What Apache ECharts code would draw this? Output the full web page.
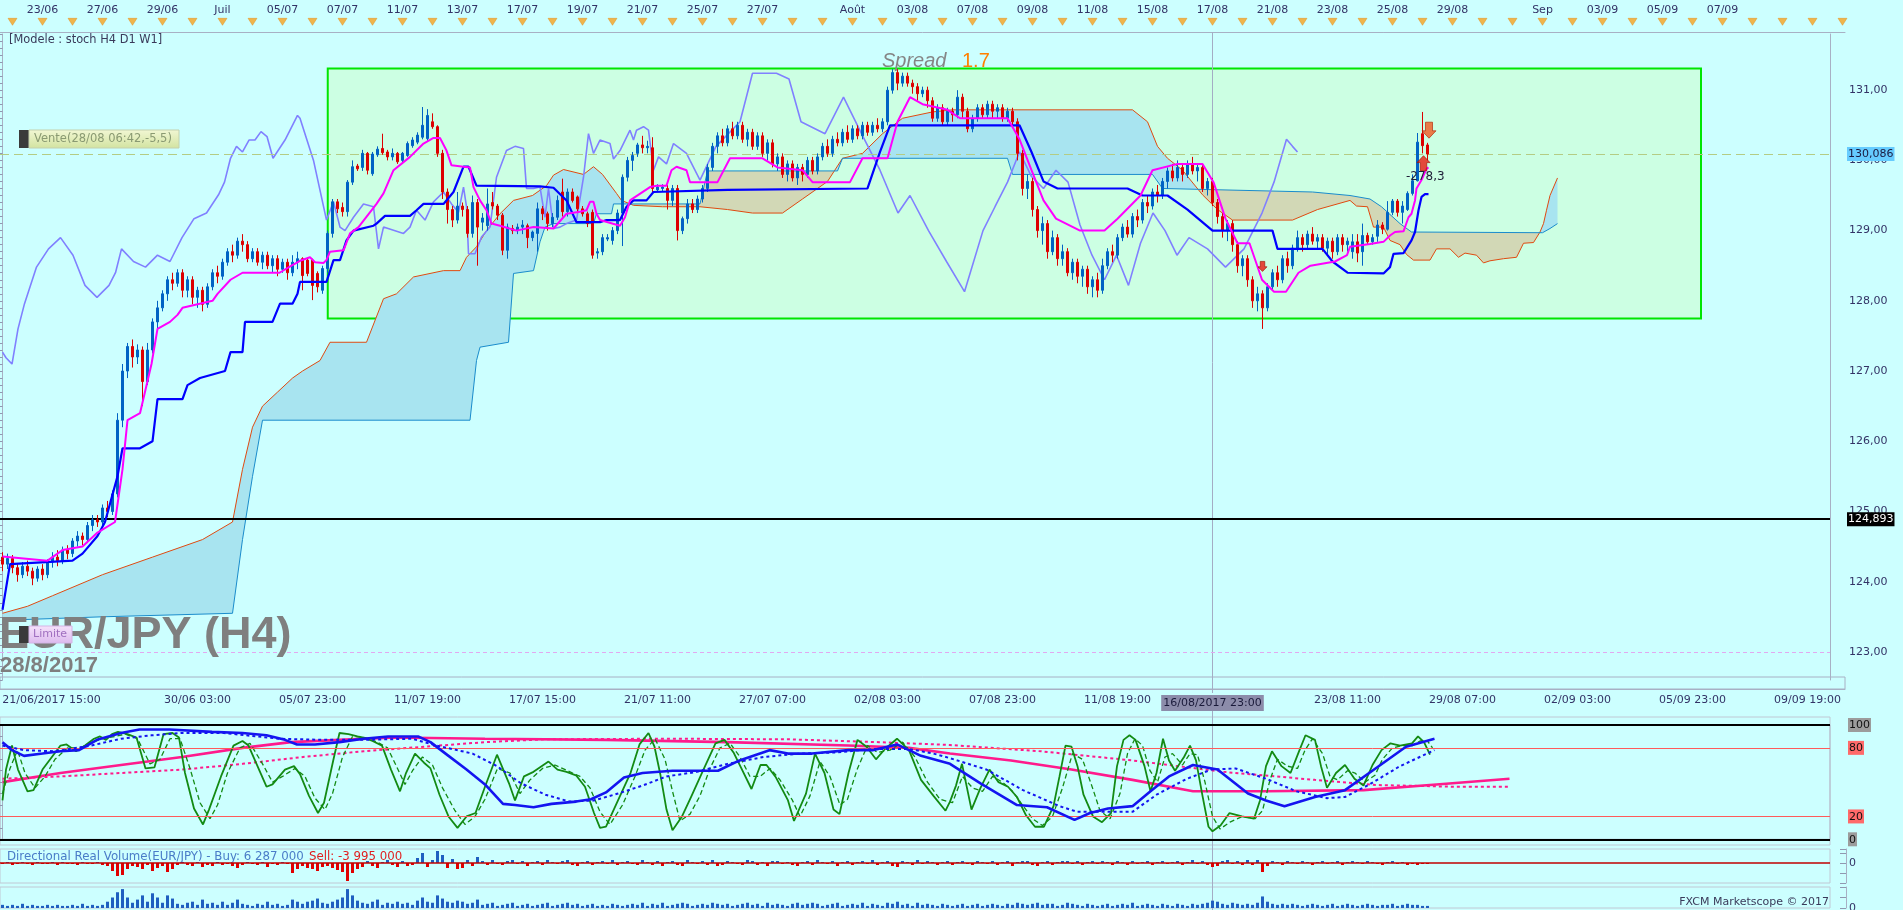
<!DOCTYPE html>
<html><head><meta charset="utf-8">
<script src="https://cdn.jsdelivr.net/npm/echarts@6/dist/echarts.min.js"></script>
<style>html,body{margin:0;padding:0;background:#ccffff;}#c{width:1903px;height:910px;}</style>
</head><body><div id="c"></div>
<script>
// ---------- DATA ----------
// candles [open, close, low, high], one per H4 bar (index 0 = 21/06/2017 15:00)
const candles = [
[124.35,124.25,124.15,124.42],[124.25,124.33,124.18,124.40],[124.33,124.20,124.12,124.38],[124.20,124.10,124.00,124.25],[124.10,124.22,124.05,124.28],
[124.22,124.15,124.08,124.30],[124.15,124.05,123.95,124.20],[124.05,124.18,124.00,124.22],[124.18,124.10,124.02,124.25],[124.10,124.28,124.05,124.32],
[124.28,124.35,124.20,124.42],[124.35,124.30,124.22,124.45],[124.30,124.45,124.25,124.50],[124.45,124.40,124.32,124.52],[124.40,124.58,124.35,124.62],
[124.58,124.65,124.50,124.72],[124.65,124.60,124.52,124.70],[124.60,124.80,124.55,124.85],[124.80,124.88,124.72,124.95],[124.88,124.85,124.78,124.95],
[124.85,125.05,124.80,125.10],[125.05,125.00,124.92,125.15],[125.00,125.25,124.95,125.30],[125.25,126.30,125.20,126.40],[126.30,127.00,126.20,127.10],
[127.00,127.35,126.90,127.40],[127.35,127.20,127.05,127.45],[127.20,127.30,127.10,127.38],[127.30,126.85,126.50,127.35],[126.85,127.30,126.80,127.40],
[127.30,127.70,127.25,127.75],[127.70,127.90,127.60,128.00],[127.90,128.10,127.85,128.15],[128.10,128.30,128.00,128.35],[128.30,128.25,128.15,128.40],
[128.25,128.40,128.20,128.45],[128.40,128.15,128.05,128.45],[128.15,128.30,128.05,128.35],[128.30,128.05,127.95,128.35],[128.05,128.15,127.90,128.20],
[128.15,127.95,127.85,128.20],[127.95,128.20,127.90,128.25],[128.20,128.40,128.15,128.45],[128.40,128.35,128.25,128.50],[128.35,128.55,128.30,128.60],
[128.55,128.70,128.50,128.75],[128.70,128.65,128.55,128.80],[128.65,128.85,128.60,128.90],[128.85,128.80,128.70,128.95],[128.80,128.60,128.55,128.85],
[128.60,128.70,128.55,128.75],[128.70,128.55,128.50,128.75],[128.55,128.65,128.45,128.70],[128.65,128.50,128.45,128.70],[128.50,128.60,128.40,128.65],
[128.60,128.45,128.35,128.65],[128.45,128.55,128.40,128.60],[128.55,128.40,128.30,128.60],[128.40,128.55,128.35,128.65],[128.55,128.60,128.45,128.70],
[128.60,128.36,128.15,128.62],[128.58,128.39,128.35,128.62],[128.58,128.22,128.01,128.60],[128.39,128.20,128.12,128.42],[128.15,128.46,128.10,128.50],
[128.46,128.96,128.40,129.00],[128.96,129.41,128.90,129.45],[129.41,129.31,129.25,129.45],[129.33,129.27,129.20,129.40],[129.27,129.69,129.20,129.72],
[129.69,129.91,129.65,130.00],[129.92,129.88,129.85,129.95],[129.90,130.10,129.85,130.15],[130.10,129.86,129.80,130.12],[129.81,130.09,129.78,130.12],
[130.08,130.16,130.05,130.20],[130.17,130.11,130.08,130.38],[130.12,130.05,130.00,130.15],[130.05,130.10,130.00,130.17],[130.10,129.98,129.95,130.12],
[130.00,130.10,129.97,130.12],[130.07,130.24,130.05,130.27],[130.21,130.29,130.18,130.33],[130.26,130.36,130.23,130.40],[130.33,130.50,130.30,130.76],
[130.31,130.64,130.28,130.73],[130.55,130.48,130.45,130.67],[130.48,130.10,130.05,130.50],[130.10,129.55,129.45,130.15],[129.55,129.30,129.10,129.60],
[129.30,129.15,129.05,129.35],[129.15,129.35,129.10,129.55],[129.35,129.30,129.20,129.40],[129.30,128.96,128.90,129.35],[128.96,129.40,128.90,129.50],
[129.40,129.05,128.50,129.45],[129.12,129.18,129.00,129.25],[129.07,129.38,129.00,129.60],[129.40,129.35,129.30,129.55],[129.35,129.22,129.15,129.38],
[129.22,128.72,128.65,129.25],[128.72,129.05,128.60,129.10],[129.03,129.00,128.95,129.08],[129.00,129.05,128.95,129.10],[129.05,129.08,128.95,129.15],
[129.07,128.90,128.75,129.10],[128.90,128.98,128.85,129.00],[128.96,129.31,128.70,129.40],[129.31,129.24,129.15,129.35],[129.24,129.10,129.00,129.27],
[129.10,129.19,129.05,129.25],[129.19,129.43,129.15,129.50],[129.55,129.27,129.20,129.74],[129.27,129.55,129.20,129.60],[129.55,129.43,129.40,129.60],
[129.48,129.31,129.25,129.50],[129.31,129.24,129.20,129.35],[129.24,129.10,129.05,129.27],[129.26,128.65,128.60,129.30],[128.68,128.70,128.60,128.75],
[128.70,128.90,128.65,128.95],[128.88,128.90,128.85,128.95],[128.86,129.00,128.80,129.05],[129.00,129.25,128.95,129.30],[129.25,129.76,128.78,129.80],
[129.76,130.00,129.70,130.05],[130.00,130.07,129.85,130.12],[130.10,130.22,130.05,130.25],[130.22,130.18,130.10,130.35],[130.18,130.20,130.10,130.28],
[130.18,129.60,129.55,130.33],[129.58,129.62,129.55,129.66],[129.60,129.62,129.55,129.66],[129.60,129.43,129.30,129.65],[129.43,129.60,129.35,129.65],
[129.60,129.00,128.86,129.65],[129.00,129.17,128.95,129.20],[129.17,129.38,129.10,129.45],[129.38,129.30,129.25,129.45],[129.30,129.45,129.25,129.50],
[129.45,129.60,129.40,129.65],[129.60,129.90,129.55,129.95],[129.90,130.20,129.85,130.25],[130.20,130.35,130.10,130.40],[130.35,130.25,130.20,130.45],
[130.25,130.45,130.20,130.50],[130.45,130.35,130.30,130.55],[130.35,130.50,130.30,130.55],[130.50,130.30,130.25,130.55],[130.30,130.40,130.20,130.45],
[130.40,130.20,130.15,130.45],[130.20,130.35,130.15,130.40],[130.35,130.10,130.05,130.40],[130.10,130.25,130.00,130.30],[130.25,129.95,129.90,130.30],
[129.95,130.05,129.85,130.10],[130.05,129.80,129.75,130.10],[129.80,129.95,129.70,130.00],[129.95,129.75,129.70,130.00],[129.75,129.90,129.65,129.95],
[129.90,129.80,129.70,129.95],[129.80,130.00,129.75,130.05],[130.00,129.85,129.80,130.05],[129.85,130.05,129.80,130.10],[130.05,130.20,130.00,130.25],
[130.20,130.10,130.05,130.30],[130.10,130.30,130.05,130.35],[130.30,130.25,130.20,130.40],[130.25,130.40,130.20,130.45],[130.40,130.30,130.25,130.50],
[130.30,130.45,130.25,130.50],[130.45,130.35,130.30,130.50],[130.35,130.50,130.30,130.55],[130.50,130.40,130.35,130.55],[130.40,130.50,130.35,130.55],
[130.50,130.45,130.40,130.60],[130.45,130.55,130.40,130.60],[130.55,131.00,130.50,131.05],[131.00,131.25,130.95,131.30],[131.25,131.10,131.00,131.30],
[131.10,131.20,131.05,131.25],[131.20,131.10,131.05,131.25],[131.10,131.05,130.95,131.15],[131.05,130.95,130.85,131.10],[130.95,131.00,130.90,131.05],
[131.00,130.85,130.75,131.05],[130.85,130.60,130.55,130.90],[130.60,130.75,130.55,130.80],[130.75,130.55,130.50,130.80],[130.55,130.70,130.50,130.75],
[130.70,130.65,130.55,130.75],[130.65,130.90,130.60,131.00],[130.90,130.70,130.60,130.95],[130.70,130.45,130.40,130.75],[130.45,130.60,130.40,130.65],
[130.60,130.75,130.55,130.80],[130.75,130.65,130.60,130.80],[130.65,130.80,130.60,130.85],[130.80,130.70,130.60,130.85],[130.70,130.75,130.60,130.80],
[130.75,130.60,130.55,130.80],[130.60,130.70,130.55,130.75],[130.70,130.55,130.50,130.75],[130.55,130.10,130.00,130.60],[130.10,129.60,129.50,130.15],
[129.60,129.70,129.45,129.80],[129.70,129.30,129.20,129.75],[129.30,129.00,128.90,129.35],[129.00,129.10,128.80,129.20],[129.10,128.70,128.60,129.15],
[128.70,128.90,128.65,129.00],[128.90,128.60,128.50,128.95],[128.60,128.70,128.50,128.80],[128.70,128.40,128.35,128.75],[128.40,128.55,128.30,128.60],
[128.55,128.35,128.25,128.60],[128.35,128.45,128.20,128.50],[128.45,128.20,128.10,128.50],[128.20,128.30,128.05,128.35],[128.30,128.15,128.05,128.40],
[128.15,128.50,128.10,128.60],[128.50,128.70,128.45,128.75],[128.70,128.65,128.55,128.80],[128.65,128.90,128.60,128.95],[128.90,129.05,128.85,129.10],
[129.05,128.95,128.90,129.15],[128.95,129.20,128.90,129.25],[129.20,129.15,129.05,129.30],[129.15,129.40,129.10,129.45],[129.40,129.35,129.25,129.50],
[129.35,129.55,129.30,129.60],[129.55,129.50,129.40,129.65],[129.50,129.70,129.45,129.75],[129.70,129.85,129.60,129.90],[129.85,129.75,129.70,129.95],
[129.75,129.90,129.70,130.00],[129.90,129.80,129.70,129.95],[129.80,129.95,129.75,130.00],[129.95,129.85,129.80,130.05],[129.85,129.90,129.70,129.95],
[129.90,129.60,129.55,129.95],[129.60,129.70,129.50,129.75],[129.70,129.40,129.35,129.75],[129.40,129.20,129.10,129.45],[129.20,129.00,128.90,129.25],
[129.00,129.10,128.85,129.15],[129.10,128.80,128.70,129.15],[128.80,128.50,128.40,128.85],[128.50,128.60,128.35,128.65],[128.60,128.30,128.20,128.65],
[128.30,128.00,127.90,128.35],[128.00,128.10,127.85,128.20],[128.10,127.90,127.60,128.15],[127.90,128.20,127.85,128.25],[128.20,128.40,128.15,128.45],
[128.40,128.30,128.20,128.50],[128.30,128.60,128.25,128.65],[128.60,128.50,128.40,128.70],[128.50,128.75,128.45,128.80],[128.75,128.90,128.70,129.00],
[128.90,128.80,128.70,128.95],[128.80,128.95,128.75,129.00],[128.95,128.85,128.80,129.05],[128.85,128.90,128.75,128.95],[128.90,128.75,128.70,128.95],
[128.75,128.85,128.65,128.90],[128.85,128.70,128.60,128.90],[128.70,128.90,128.65,128.95],[128.90,128.80,128.70,128.95],[128.80,128.85,128.70,128.90],
[128.70,128.84,128.60,128.95],[128.84,128.68,128.55,128.95],[128.70,128.93,128.50,129.10],[128.93,128.84,128.80,128.97],[128.84,128.90,128.80,128.95],
[128.92,129.08,128.84,129.15],[129.08,129.02,128.95,129.12],[129.02,129.26,129.00,129.42],[129.26,129.42,129.22,129.45],[129.42,129.26,129.20,129.45],
[129.26,129.35,129.10,129.42],[129.30,129.53,129.28,129.56],[129.53,129.71,129.50,129.80],[129.71,130.26,129.70,130.39],[130.38,130.21,130.10,130.69],
[130.22,130.09,130.00,130.25]
];
// Ichimoku lines: [bar index, price]
const tenkan = [[0,124.36],[9,124.3],[12,124.45],[16,124.5],[19,124.7],[22.5,124.85],[24,125.6],[25,126.3],[27.5,126.4],[29.8,127.1],[31,127.6],[33.5,127.7],[35,127.8],[36,127.9],[42,128.0],[43,128.1],[45.6,128.3],[48,128.4],[55.4,128.4],[57.8,128.5],[59.5,128.57],[61.5,128.62],[62.5,128.55],[64.2,128.54],[64.8,128.58],[65.5,128.7],[68.2,128.72],[69.5,128.96],[71.2,129.05],[74.8,129.38],[76.2,129.53],[78.2,129.86],[81.5,130.05],[84.2,130.24],[86.2,130.32],[87.5,130.32],[88.8,130.14],[89.8,129.93],[92.2,129.91],[93.5,129.9],[94.2,129.62],[95.5,129.43],[96.8,129.29],[97.8,129.1],[99.5,129.07],[102.8,129.0],[106.2,129.05],[110.2,129.03],[112.8,129.24],[115.5,129.27],[116.8,129.29],[117.5,129.41],[118.2,129.41],[118.8,129.24],[119.5,129.15],[123.5,129.07],[124.5,129.19],[125.5,129.43],[129.5,129.62],[130.8,129.64],[132.8,129.64],[133.8,129.86],[134.8,129.91],[136.8,129.86],[137.5,129.69],[143,129.69],[145.5,130.03],[152,130.03],[155,129.9],[160,129.86],[162,129.69],[169.5,129.69],[172,130.03],[177,130.03],[179,130.55],[181.5,130.9],[184,130.8],[189,130.72],[191.5,130.6],[201,130.6],[203.4,130.3],[205.8,129.86],[208.2,129.43],[210.7,129.17],[215.5,129.0],[220.4,129.0],[223,129.17],[227.6,129.5],[230,129.86],[235,129.95],[240,129.95],[242.2,129.69],[244.6,129.17],[247,128.82],[249.4,128.82],[251.9,128.3],[254.3,128.13],[256.7,128.13],[259.2,128.4],[261.6,128.5],[266.5,128.56],[268.9,128.65],[269.5,128.77],[273.5,128.81],[276.2,128.84],[277.5,128.93],[278.5,128.98],[280.2,128.99],[281.2,129.19],[281.8,129.24],[282.5,129.43],[282.8,129.6],[283.8,129.72],[284.8,129.88],[285.2,129.9]];
const kijun = [[0,123.6],[1.5,124.25],[14,124.3],[16,124.4],[19,124.65],[20.5,124.85],[23,125.5],[24,125.9],[27.5,125.9],[30,126.0],[31,126.6],[36,126.6],[37,126.8],[39.5,126.9],[44.5,127.0],[45.6,127.27],[48,127.27],[48.5,127.7],[54,127.7],[55.5,127.96],[58,127.96],[59,128.1],[59.5,128.27],[64.8,128.27],[66.2,128.58],[67.5,128.58],[68.8,128.86],[70.2,129.0],[74.2,129.07],[74.8,129.1],[76.5,129.21],[81.5,129.21],[82.8,129.29],[84.2,129.38],[88.2,129.38],[90.2,129.55],[92.2,129.91],[93.2,129.91],[94.8,129.64],[107.5,129.63],[110.2,129.61],[112.8,129.43],[114.8,129.12],[119.5,129.12],[120.8,129.15],[123.5,129.15],[124.8,129.34],[126.2,129.43],[128.8,129.43],[130.2,129.55],[145,129.58],[173,129.6],[175.5,130.12],[177.5,130.5],[203.4,130.5],[205.8,130.12],[208.2,129.7],[211,129.6],[225,129.6],[228,129.5],[233,129.5],[237,129.3],[242,129.0],[254,129.0],[255,128.74],[264,128.74],[266,128.56],[269,128.4],[276.2,128.39],[277.5,128.48],[278.2,128.67],[280.2,128.68],[281.8,128.86],[282.5,128.98],[283.2,129.29],[283.8,129.48],[284.5,129.52],[285.2,129.52]];
const chikou = [[0,127.27],[0.7,127.19],[1.9,127.1],[3.1,127.6],[4.4,127.96],[6.8,128.48],[9.2,128.74],[11.6,128.9],[14.1,128.65],[16.5,128.22],[18.9,128.05],[21.3,128.22],[22.6,128.4],[23.8,128.74],[26.2,128.56],[28.6,128.48],[31,128.65],[33.5,128.56],[35.9,128.9],[38.3,129.17],[40.8,129.25],[43.2,129.51],[44.4,129.69],[45.6,130.03],[46.8,130.2],[48,130.12],[49.3,130.29],[50.5,130.29],[51.7,130.41],[52.9,130.34],[54.1,130.03],[56.5,130.29],[59,130.64],[59.5,130.6],[62.2,130.0],[64.8,129.15],[66.2,129.41],[67.5,129.05],[68.5,129.0],[70.2,129.19],[72.2,129.38],[74.2,129.34],[75.2,128.74],[76.2,129.05],[80.2,128.96],[81.5,129.05],[82.8,129.29],[84.5,129.15],[86.2,129.41],[88.2,129.55],[89.8,129.38],[91.2,129.26],[92.2,129.62],[92.8,129.34],[93.2,128.67],[94.5,128.67],[95.8,128.91],[97.5,129.05],[98.8,129.76],[100.8,130.14],[102.5,130.2],[104.2,130.17],[104.8,129.6],[106.2,129.6],[107.5,129.62],[108.5,129.19],[109.2,129.6],[110.2,129.03],[111.5,129.05],[112.8,129.1],[114.8,129.15],[116.2,129.76],[117.2,130.38],[118.2,130.1],[119.5,130.29],[121.5,130.24],[122.2,130.02],[123.5,130.14],[125.5,130.43],[126.2,130.29],[126.8,130.43],[128.2,130.48],[129.2,130.43],[130.2,129.86],[131.2,130.05],[132.8,129.95],[134.2,130.24],[136.8,130.1],[137.5,130.0],[139.5,129.72],[142.7,130.2],[147.5,130.55],[150,131.24],[154.8,131.24],[157.3,131.16],[159.7,130.55],[164.5,130.38],[168.2,130.9],[171.8,130.38],[175.5,129.86],[179.1,129.25],[181.5,129.5],[185.2,129.0],[188.8,128.56],[192.4,128.13],[196.1,129.0],[198.5,129.34],[201,129.69],[203.4,130.12],[205.8,129.77],[208.2,129.6],[210.7,129.86],[213.1,129.69],[215.5,129.08],[217.9,128.65],[220.4,128.3],[222.8,128.65],[225.2,128.22],[227.6,128.82],[230.1,129.25],[232.5,129.0],[234.9,128.65],[237.3,128.9],[241,128.74],[244.6,128.48],[248.3,128.74],[251.9,129.25],[254.3,129.69],[256.8,130.3],[258,130.2],[259,130.12]];
const senkouA = [[0,123.55],[5,123.65],[10,123.8],[20,124.1],[30,124.35],[40,124.6],[46,124.85],[48,125.6],[50,126.2],[52,126.5],[55,126.7],[58,126.9],[60,127.0],[63.5,127.15],[65.5,127.41],[72.8,127.41],[76.2,128.03],[78.8,128.1],[82.2,128.34],[88.2,128.43],[91.5,128.43],[92.8,128.62],[94.8,128.77],[96.8,129.0],[99.5,129.24],[102.2,129.43],[106,129.5],[108.8,129.64],[110.2,129.79],[112.2,129.87],[116.2,129.8],[118.2,129.91],[120,129.8],[122.8,129.53],[123.8,129.43],[126.2,129.36],[132,129.34],[139.5,129.34],[145,129.3],[150,129.25],[156,129.25],[160,129.45],[165,129.7],[168,130.03],[172,130.1],[176,130.38],[180,130.6],[186,130.69],[190,130.72],[226,130.72],[229,130.55],[231,130.2],[233,130.03],[236,129.86],[240,129.51],[243,129.3],[246,129.15],[258,129.15],[263,129.3],[269.5,129.43],[270.8,129.35],[273,129.34],[274.2,129.05],[276.2,129.05],[277.5,128.86],[279.5,128.8],[280.8,128.66],[282.2,128.58],[285.5,128.58],[286.8,128.74],[289.5,128.74],[291.2,128.62],[292.5,128.68],[294.8,128.65],[296.2,128.54],[297.5,128.57],[300.2,128.6],[302.8,128.62],[304.2,128.82],[306.2,128.83],[307.5,128.98],[308.2,129.1],[308.8,129.29],[309.5,129.5],[311,129.75]];
const senkouB = [[0,123.45],[20,123.5],[46,123.55],[48,124.6],[50,125.5],[52,126.3],[93.5,126.3],[94.8,127.15],[95.5,127.34],[101.2,127.41],[102.2,128.39],[106.2,128.43],[107.5,128.84],[108.5,129.05],[110.2,129.1],[118.2,129.1],[118.8,129.24],[121.8,129.24],[122.2,129.38],[139.5,129.38],[141,129.85],[167,129.85],[168,130.03],[201,130.03],[202,129.8],[230,129.8],[232,129.6],[262,129.55],[269.5,129.5],[273.5,129.45],[275.8,129.34],[279.5,129.1],[281.8,128.98],[308,128.97],[309.5,129.03],[311,129.1]];
// oscillator lines (0..100): [bar index, value]
const stochK = [[0,34],[0.7,61],[1.9,82],[3.1,61],[5,42],[6.2,43],[8,61],[9.2,68],[11.6,82],[12.8,83],[14.7,77],[16.5,82],[18.3,88],[19.5,90],[20.7,87],[21.9,92],[23.1,94],[25,92],[26.8,89],[28.6,62],[30.4,63],[32.2,92],[34,93],[35.3,89],[36.5,58],[38.3,27],[40.1,13],[41.3,26],[43.7,55],[46.2,82],[48,86],[49.2,82],[51,64],[52.8,46],[54,48],[56.5,61],[58.3,64],[59.5,57],[61.3,38],[63.1,23],[64.3,32],[66.2,70],[67.4,93],[69.2,92],[71,90],[72.2,89],[74,86],[75.9,82],[77.7,61],[79.5,42],[80.7,58],[82.5,75],[84.3,67],[85.6,62],[87.4,39],[89.2,20],[91,10],[92.8,20],[94.6,23],[96.5,46],[98.9,74],[101.3,49],[102.5,34],[104.3,55],[106.2,59],[109.2,68],[111,61],[112.8,59],[114.7,56],[116.5,46],[118.3,23],[119.5,10],[120.7,11],[123.1,34],[125.6,58],[127.4,83],[129.2,93],[130.4,81],[131.6,56],[132.8,26],[134,8],[135.9,20],[137.7,37],[140.1,60],[142.6,84],[144.4,87],[146.2,76],[148,60],[149.8,44],[151.6,65],[152.8,65],[154.7,54],[157.1,34],[158.3,16],[160.7,40],[162.5,75],[164.4,58],[166.2,26],[167.4,22],[169.2,58],[171,87],[172.8,81],[174.7,70],[176.5,79],[178.9,88],[181.3,78],[183.7,52],[186.2,38],[188.6,25],[189.5,33],[190.7,47],[191.9,66],[193.8,26],[195.6,45],[197.4,61],[199.2,50],[201.1,46],[202.9,37],[204.7,21],[206.5,11],[208.3,11],[210.2,29],[211.4,55],[212.6,82],[213.8,81],[215,64],[216.2,39],[218.1,20],[219.9,15],[221.7,23],[222.9,64],[224.2,87],[225.4,91],[226.6,87],[228.4,64],[229.6,42],[230.8,58],[232.1,88],[233.3,69],[234.5,60],[236.3,72],[237.5,82],[238.7,69],[240,38],[241.2,11],[242,7],[243.6,12],[245.4,23],[247.9,20],[250.3,18],[251.5,34],[252.7,64],[253.9,77],[255.8,64],[257.6,58],[259.4,78],[260.6,91],[262.5,87],[263.7,64],[264.9,45],[266.7,58],[268.5,65],[270.4,53],[272.2,47],[274,65],[275.8,78],[277.6,84],[279.5,82],[281.9,84],[283.1,90],[284.3,85],[285.5,74]];
const stochD = [[0,40],[1.5,62],[3,78],[4.5,58],[6.5,45],[8.5,55],[10.5,70],[13,80],[15.5,80],[18,85],[20,88],[22.5,90],[24.5,92],[27,88],[29.5,66],[31.5,70],[33.5,88],[35.5,88],[37.5,62],[39.5,32],[41.5,18],[43,30],[45,58],[47.5,80],[49.5,84],[52,66],[54,50],[56,55],[58.5,62],[60.5,55],[62.5,36],[64.5,26],[66,40],[68,72],[70,90],[72.5,89],[75,85],[77,80],[79,62],[80.5,48],[82,60],[84,72],[86,65],[88,45],[90.5,25],[92.5,13],[94.5,20],[96.5,35],[99,62],[101.5,58],[103.5,40],[105.5,52],[108,62],[110.5,65],[113,60],[115.5,55],[117.5,45],[119.5,24],[121.5,13],[124,30],[126.5,55],[128.5,78],[130.5,88],[132.5,70],[134,42],[135.5,16],[137.5,22],[139.5,38],[141.5,62],[143.5,80],[145.5,84],[147.5,72],[149.5,55],[151.5,55],[153.5,62],[155.5,52],[158,34],[159.5,20],[161.5,38],[163.5,68],[165.5,55],[167.5,30],[169,35],[171,62],[173,82],[175,76],[177.5,78],[180,85],[182.5,72],[185,50],[187.5,35],[190,32],[192,55],[194,45],[196,42],[198,55],[200,50],[202,42],[204,30],[206,18],[208,12],[210,20],[212,45],[214,75],[216,70],[218,45],[219.5,25],[221.5,18],[223.5,40],[225,75],[226.5,88],[228,82],[229.5,60],[231,50],[232.5,72],[234,75],[236,65],[237.5,75],[239,74],[240.5,50],[242,20],[243.5,9],[245.5,15],[248,20],[250.5,18],[252,25],[253.5,52],[255,70],[257,64],[259,62],[260.5,78],[262,88],[264,75],[265.5,55],[267,52],[269,60],[270.5,58],[272.5,50],[274.5,56],[276,70],[278,80],[280,82],[282,82],[283.5,86],[285,86],[286,80]];
const d1Main = [[0,85],[1.9,78],[4.3,73],[8,75],[11.6,77],[15.3,78],[18.9,87],[23.7,93],[27.4,96],[33.4,96],[41.9,94],[48,93],[52.8,91],[56.5,87],[58.9,83],[62.5,83],[67.4,85],[72.2,88],[77.1,90],[83.1,90],[85.6,85],[89.2,73],[92.8,61],[96.5,48],[100.1,31],[102.5,30],[106.2,28],[109.8,31],[114.7,33],[117.7,35],[120.7,41],[124.3,54],[128,58],[134,60],[138.9,60],[143.1,60],[147.4,69],[153.4,78],[157.1,75],[161.9,75],[169.2,78],[174,78],[178.9,83],[183.7,73],[189.5,66],[195.6,49],[202.9,30],[208.9,28],[214.4,17],[217.5,23],[221.1,27],[226,29],[229.6,42],[233.3,55],[238.1,65],[243,61],[249.1,40],[252.7,34],[256.4,29],[262.5,37],[268.5,43],[274.6,62],[280.7,81],[286.4,88]];
const d1Signal = [[0,82],[4.3,78],[10.4,77],[17.7,82],[23.7,88],[29.8,91],[35.9,93],[44.3,93],[55.3,88],[63.7,87],[72.2,87],[81.9,88],[86.8,82],[94,75],[98.9,64],[103.7,49],[108.6,39],[113.4,33],[118.3,34],[123.1,40],[128,47],[132.8,55],[138.9,59],[145,66],[152.2,72],[159.5,75],[166.8,76],[174,79],[181.3,79],[186.2,75],[189.5,71],[196.8,61],[204.1,43],[211.4,29],[215,24],[219.9,24],[226,24],[230.8,39],[236.9,53],[241.8,61],[246.6,62],[252.7,53],[258.8,42],[264.9,36],[268.5,37],[273.4,48],[279.5,64],[286.4,78]];
const w1Main = [[0,50],[11.6,58],[23.7,65],[35.9,72],[48,80],[57.7,85],[67.4,87],[78.3,89],[96.5,88],[120.7,87],[145,85],[169.2,82],[181.3,80],[189.5,75],[201.7,69],[213.8,61],[226,52],[238.1,42],[252.7,42],[272.2,43],[286.8,48],[301.4,53]];
const w1Signal = [[0,53],[11.6,55],[23.7,58],[35.9,61],[48,66],[60.1,72],[72.2,77],[84.3,81],[96.5,85],[108.6,87.5],[132.8,88],[157.1,87.5],[175.3,85],[189.5,82.5],[207.7,77],[226,69],[244.2,59],[262.5,52],[274.6,47.5],[290.4,46],[301.4,46]];
// directional volume (buy +, sell -) and real volume, one per bar
const dirVolume = [-1,1,-2,-1,1,-1,-2,1,-1,-1, 1,-2,1,-1,-1,-2,1,-1,-1,1, -2,-3,-8,-13,-12,-6,-3,-4,-6,-2, -8,-5,-3,-9,-6,-2,1,-2,-3,1,
-4,-2,-3,1,-2,-1,-3,-5,-2,1, -1,-2,1,-4,-1,-2,1,-1,-10,-6, -3,-5,-6,-8,-4,-3,-5,-7,-9,-18, -10,-6,-4,2,-3,-5,1,3,-2,-4,
2,-3,-2,5,10,-4,3,12,8,-5, 4,-6,-5,3,-3,6,2,-2,3,-1, -2,2,3,-1,2,-3,1,2,-2,3, 1,-1,2,3,-2,-3,1,2,-2,1, 2,-1,3,-2,1,2,-1,-2,3,1,
-2,2,-3,1,2,-2,-3,3,1,-1, 2,-2,3,-3,-2,2,1,-1,-2,3, 2,-2,1,-3,2,2,-1,1,-2,-3, 1,2,-2,3,1,-1,2,-3,1,2, -2,1,2,-1,3,-2,1,2,-3,-4,
2,1,-2,3,-1,2,1,-2,1,2, -2,1,2,-1,-2,2,1,-1,2,-2, 1,2,-3,1,2,2,-2,-3,1,2, -2,1,2,2,-1,2,-2,1,2,-1, 2,1,-2,2,1,-2,2,-1,1,2,
-2,1,2,-1,1,2,-2,1,3,-1, 2,-2,-4,-3,2,3,-1,2,-2,3, -2,3,-9,-3,2,1,-2,2,1,-1, 2,1,-2,1,2,-1,1,2,-2,1, 2,1,-1,2,1,-1,-2,1,2,-1, 1,-2,-1,-2,-1,-1];
const realVolume = [3,2,3,2,4,2,3,2,2,3, 2,3,2,2,3,2,4,2,3,2, 3,6,10,15,18,10,5,8,12,6, 14,10,5,12,9,4,3,5,6,3, 8,4,5,3,6,3,5,8,4,3, 2,4,3,6,3,4,2,3,8,6,
4,6,7,9,5,4,6,8,10,18, 12,7,5,4,6,8,3,5,4,6, 4,5,3,7,10,6,5,12,9,6, 5,7,6,4,5,8,3,4,5,2, 3,4,5,2,3,4,2,3,4,5, 2,3,4,5,3,4,2,3,4,2,
3,2,4,3,2,3,4,3,5,2, 4,3,5,2,3,4,5,4,2,3, 4,3,5,4,3,4,2,3,4,5, 3,4,2,5,3,4,3,2,4,5, 3,4,5,4,2,3,4,5,2,3, 4,3,5,2,4,3,2,5,4,6,
3,4,2,5,3,4,3,2,4,3, 2,3,4,2,3,4,2,3,4,3, 2,4,3,5,4,3,4,5,3,4, 4,2,3,5,4,3,2,4,3,2, 3,4,2,3,4,3,5,2,3,4, 3,2,4,3,2,4,3,2,4,3,
4,5,7,6,4,3,5,4,3,4, 3,5,11,6,4,3,4,3,4,3, 2,3,4,3,2,3,4,2,3,4, 3,2,3,4,3,2,3,3,4,2, 3,4,3,3,2,2];
// axis tick labels
const topLabelIdx = [8,20,32,44,56,68,80,92,104,116,128,140,152,170,182,194,206,218,230,242,254,266,278,290,308,320,332,344];
const topLabelText = ["23/06","27/06","29/06","Juil","05/07","07/07","11/07","13/07","17/07","19/07","21/07","25/07","27/07","Août","03/08","07/08","09/08","11/08","15/08","17/08","21/08","23/08","25/08","29/08","Sep","03/09","05/09","07/09"];
const dayMarkIdx = [2,8,14,20,26,32,38,44,50,56,62,68,74,80,86,92,98,104,110,116,122,128,134,140,146,152,158,164,170,176,182,188,194,200,206,212,218,224,230,236,242,248,254,260,266,272,278,284,290,296,302,308,314,320,326,332,338,344,350,356,362,368];
const bottomLabelIdx = [0,39,62,85,108,131,154,177,200,223,242,269,292,315,338,361];
const bottomLabelText = ["21/06/2017 15:00","30/06 03:00","05/07 23:00","11/07 19:00","17/07 15:00","21/07 11:00","27/07 07:00","02/08 03:00","07/08 23:00","11/08 19:00","16/08/2017 23:00","23/08 11:00","29/08 07:00","02/09 03:00","05/09 23:00","09/09 19:00"];
const cursorIdx = 242;
const priceLines = {bid:124.893, sellOrder:130.086, limit:123.0};
const zoneRect = {x0:65.05, x1:339.7, top:131.31, bottom:127.75};
const tradeMarks = {down:[285.3,130.43], up:[284.2,129.96], small:[252,128.49]};

// ---------- CHART ----------
const FONT = '"DejaVu Sans", Verdana, sans-serif';
const AX = '#333366', LC = '#a8b0c4';
const NB = 366, NS = 369;
const catMain = Array.from({length:NB},(_, i)=>String(i));
const catStrip = Array.from({length:NS},(_, i)=>String(i));
const topMap = new Map(topLabelIdx.map((v,i)=>[v, topLabelText[i]]));
const botMap = new Map(bottomLabelIdx.map((v,i)=>[v, bottomLabelText[i]]));

function interpAt(pts, x){
  if (x <= pts[0][0]) return pts[0][1];
  for (let i=1;i<pts.length;i++){ if (x <= pts[i][0]) { const a=pts[i-1], b=pts[i]; return b[0]===a[0]? b[1] : a[1]+(b[1]-a[1])*(x-a[0])/(b[0]-a[0]); } }
  return pts[pts.length-1][1];
}
function cloudRender(params, api){
  const xs = Array.from(new Set(senkouA.map(p=>p[0]).concat(senkouB.map(p=>p[0])))).sort((a,b)=>a-b);
  const lo = Math.max(senkouA[0][0], senkouB[0][0]), hi = Math.min(senkouA[senkouA.length-1][0], senkouB[senkouB.length-1][0]);
  const X = xs.filter(x=>x>=lo && x<=hi);
  const children = [];
  let top=[], bot=[], sign=null;
  const flush = (s)=>{ if (top.length>1){ const pts = top.concat(bot.slice().reverse()).map(p=>api.coord(p)); children.push({type:'polygon', shape:{points:pts}, style:{fill: s>0 ? '#a8e4f0' : '#d2d8b6'}}); } };
  for (let i=0;i<X.length;i++){
    const x=X[i], a=interpAt(senkouA,x), b=interpAt(senkouB,x);
    const s = a>=b ? 1 : -1;
    if (sign===null) sign = s;
    else if (s!==sign){
      const xp=X[i-1], ap=interpAt(senkouA,xp), bp=interpAt(senkouB,xp);
      const t=(ap-bp)/((ap-bp)-(a-b)); const xc=xp+t*(x-xp), yc=ap+t*(a-ap);
      top.push([xc,yc]); bot.push([xc,yc]); flush(sign);
      top=[[xc,yc]]; bot=[[xc,yc]]; sign=s;
    }
    top.push([x,a]); bot.push([x,b]);
  }
  flush(sign);
  return {type:'group', children};
}
const line = (data, color, width, extra) => Object.assign({type:'line', data, symbol:'none', showSymbol:false, silent:true, lineStyle:{color, width}}, extra||{});
const fmtPrice = v => v.toFixed(3).replace('.', ',');

const chart = echarts.init(document.getElementById('c'));
const option = {
  animation:false,
  backgroundColor:'#ccffff',
  textStyle:{fontFamily:FONT},
  grid:[
    {left:0, top:34, width:1830, height:646, outerBoundsMode:'none'},
    {left:0, top:0, width:1845, height:32, outerBoundsMode:'none'},
    {left:0, top:677, width:1845, height:12, show:true, borderColor:LC, borderWidth:1, outerBoundsMode:'none'},
    {left:0, top:725, width:1830, height:114.3, show:true, borderColor:LC, borderWidth:1, outerBoundsMode:'none'},
    {left:0, top:849, width:1830, height:34, show:true, borderColor:'#c0c8d4', borderWidth:1, outerBoundsMode:'none'},
    {left:0, top:887, width:1830, height:21, show:true, borderColor:'#c0c8d4', borderWidth:1, outerBoundsMode:'none'},
    {left:0, top:0, width:1845, height:19, outerBoundsMode:'none'},
    {left:0, top:717, width:1830, height:128, show:true, borderColor:'#c0c8d4', borderWidth:1, outerBoundsMode:'none'}
  ],
  xAxis:[
    {type:'category', gridIndex:0, data:catMain, show:false},
    {type:'value', gridIndex:0, min:-0.5, max:NB-0.5, show:false},
    {type:'category', gridIndex:1, data:catStrip, position:'bottom',
      axisLine:{onZero:false, lineStyle:{color:LC}},
      axisTick:{inside:true, length:14, interval:(i)=>dayMarkIdx.includes(i), lineStyle:{color:LC}},
      axisLabel:{inside:true, margin:16, interval:(i)=>topMap.has(i), formatter:(v,i)=>topMap.get(i)||'', color:AX, fontFamily:FONT, fontSize:11},
      splitLine:{show:false}},
    {type:'category', gridIndex:6, data:catStrip, position:'bottom',
      axisLine:{show:false, onZero:false}, axisTick:{inside:false, length:5, interval:0, lineStyle:{color:LC}}, axisLabel:{show:false}},
    {type:'category', gridIndex:2, data:catStrip, position:'bottom',
      axisLine:{onZero:false, lineStyle:{color:LC}},
      axisTick:{inside:true, length:10, interval:(i)=> i>=16 && (i-16)%23===0, lineStyle:{color:LC}},
      axisLabel:{margin:6, interval:(i)=>botMap.has(i), color:AX, fontFamily:FONT, fontSize:11,
        formatter:(v,i)=>{ const t=botMap.get(i)||''; if(i===0) return '{first|'+t+'}'; if(i===cursorIdx) return '{cur|'+t+'}'; return t; },
        rich:{first:{padding:[0,0,0,98], color:AX, fontFamily:FONT, fontSize:11}, cur:{backgroundColor:'#8c8caa', color:'#1a1a3a', padding:[3,2,2,2], fontFamily:FONT, fontSize:11}}}},
    {type:'category', gridIndex:2, data:catStrip, position:'bottom',
      axisLine:{show:false, onZero:false},
      axisTick:{inside:true, length:4, interval:(i)=>{ const r=((i-16)%23+23)%23; return [3,6,9,12,14,17,20].includes(r); }, lineStyle:{color:LC}},
      axisLabel:{show:false}},
    {type:'value', gridIndex:3, min:-0.5, max:NB-0.5, show:false},
    {type:'category', gridIndex:4, data:catMain, show:false},
    {type:'category', gridIndex:5, data:catMain, show:false},
    {type:'value', gridIndex:7, min:0, max:1, show:false}
  ],
  yAxis:[
    {type:'value', gridIndex:0, position:'right', offset:16, min:122.6, max:131.8, interval:0.1,
      axisLine:{show:true, lineStyle:{color:LC}}, axisTick:{show:true, inside:true, length:8, lineStyle:{color:'#9098b0'}},
      axisLabel:{margin:3, color:AX, fontFamily:FONT, fontSize:11, formatter:v=> Math.abs(v-Math.round(v))<1e-6 ? Math.round(v).toFixed(2).replace('.',',') : ''},
      splitLine:{show:false}},
    {type:'value', gridIndex:1, min:0, max:32, inverse:true, show:false},
    {type:'value', gridIndex:2, show:false},
    {type:'value', gridIndex:3, position:'right', offset:16, min:0, max:100, interval:10,
      axisLine:{show:true, lineStyle:{color:LC}}, axisTick:{show:true, inside:true, length:6, lineStyle:{color:'#9098b0'}},
      axisLabel:{margin:2, color:'#111', fontFamily:FONT, fontSize:11,
        formatter:v=> (v===100||v===0) ? '{g|'+v+'}' : ((v===80||v===20) ? '{r|'+v+'}' : ''),
        rich:{g:{backgroundColor:'#9c9c9c', color:'#111', padding:[2,1,1,1], fontFamily:FONT, fontSize:11}, r:{backgroundColor:'#ff6a6a', color:'#111', padding:[2,1,1,1], fontFamily:FONT, fontSize:11}}},
      splitLine:{show:false}},
    {type:'value', gridIndex:4, position:'right', offset:16, min:-20, max:14, interval:10,
      axisLine:{show:true, lineStyle:{color:LC}}, axisTick:{show:true, inside:true, length:6, lineStyle:{color:'#9098b0'}},
      axisLabel:{margin:3, color:AX, fontFamily:FONT, fontSize:11, formatter:v=> v===0?'0':''}, splitLine:{show:false}},
    {type:'value', gridIndex:5, position:'right', offset:16, min:0, max:20, interval:10,
      axisLine:{show:true, lineStyle:{color:LC}}, axisTick:{show:true, inside:true, length:6, lineStyle:{color:'#9098b0'}},
      axisLabel:{margin:3, color:AX, fontFamily:FONT, fontSize:11, formatter:v=> v===0?'0':''}, splitLine:{show:false}},
    {type:'value', gridIndex:6, show:false},
    {type:'value', gridIndex:0, position:'right', offset:0, min:122.6, max:131.8,
      axisLine:{show:true, lineStyle:{color:LC}}, axisTick:{show:false}, axisLabel:{show:false}, splitLine:{show:false}},
    {type:'value', gridIndex:7, min:0, max:1, show:false}
  ],
  series:[
    line([[zoneRect.x0, 130]], 'transparent', 0, {xAxisIndex:1, yAxisIndex:0, z:1, lineStyle:{opacity:0},
      markArea:{silent:true, itemStyle:{color:'#ccffe3', borderColor:'#00e600', borderWidth:2},
        data:[[{coord:[zoneRect.x0, zoneRect.top]},{coord:[zoneRect.x1, zoneRect.bottom]}]]}}),
    {type:'custom', xAxisIndex:1, yAxisIndex:0, data:[[0,127]], renderItem:cloudRender, silent:true, z:2},
    line(senkouA, '#e04a10', 1, {xAxisIndex:1, yAxisIndex:0, z:3}),
    line(senkouB, '#1a8ccc', 1, {xAxisIndex:1, yAxisIndex:0, z:3}),
    line(chikou, '#8080ff', 1.6, {xAxisIndex:1, yAxisIndex:0, z:4}),
    {type:'candlestick', xAxisIndex:0, yAxisIndex:0, data:candles, barWidth:3, silent:true, z:5,
      itemStyle:{color:'#0062c4', color0:'#dd0000', borderColor:'#0062c4', borderColor0:'#dd0000', borderWidth:1}},
    line(kijun, '#0000ff', 2.2, {xAxisIndex:1, yAxisIndex:0, z:6}),
    line(tenkan, '#ff00ff', 2, {xAxisIndex:1, yAxisIndex:0, z:6}),
    line([[0, 127]], 'transparent', 0, {xAxisIndex:1, yAxisIndex:0, z:7, lineStyle:{opacity:0},
      markLine:{silent:true, symbol:['none','none'], animation:false,
        data:[
          {yAxis:priceLines.bid, lineStyle:{color:'#000', width:2, type:'solid'},
            label:{show:true, position:'end', distance:17, formatter:fmtPrice(priceLines.bid), color:'#fff', backgroundColor:'#000', padding:[2,1,1,1], fontFamily:FONT, fontSize:11}},
          {yAxis:priceLines.sellOrder, lineStyle:{color:'#b4cc84', width:1, type:[9,5]},
            label:{show:true, position:'end', distance:17, formatter:fmtPrice(priceLines.sellOrder), color:'#1a1a40', backgroundColor:'#66ccff', padding:[2,1,1,1], fontFamily:FONT, fontSize:11}},
          {yAxis:priceLines.limit, lineStyle:{color:'#e2a8f0', width:1, type:[4,3]}, label:{show:false}}
        ]}}),
    {type:'scatter', xAxisIndex:1, yAxisIndex:0, silent:true, z:8,
      data:[{value:tradeMarks.down, symbol:'path://M3,0 L9,0 L9,7 L12,7 L6,13 L0,7 L3,7 Z', symbolSize:[14,16], itemStyle:{color:'#f05a20', borderColor:'#b02000', borderWidth:0.8}},
            {value:tradeMarks.up, symbol:'path://M6,0 L12,6 L9,6 L9,13 L3,13 L3,6 L0,6 Z', symbolSize:[13,15]},
            {value:tradeMarks.small, symbol:'path://M3,0 L9,0 L9,7 L12,7 L6,13 L0,7 L3,7 Z', symbolSize:[9,10]}],
      itemStyle:{color:'#e81a10', borderColor:'#a01000', borderWidth:0.8}},
    {type:'scatter', xAxisIndex:2, yAxisIndex:1, silent:true, z:3,
      data:dayMarkIdx.map(i=>[i, 21.8]), symbol:'triangle', symbolRotate:180, symbolSize:[9,7],
      itemStyle:{color:'#f7a21e', borderColor:'#e08000', borderWidth:0.5}},
    line(w1Signal, '#ff1a8c', 2, {xAxisIndex:6, yAxisIndex:3, z:3, lineStyle:{color:'#ff1a8c', width:2, type:[3,3]}}),
    line(w1Main, '#ff1a8c', 2.6, {xAxisIndex:6, yAxisIndex:3, z:3,
      markLine:{silent:true, symbol:['none','none'], label:{show:false},
        data:[{yAxis:100, lineStyle:{color:'#000', width:2, type:'solid'}},{yAxis:0, lineStyle:{color:'#000', width:2, type:'solid'}},
              {yAxis:80, lineStyle:{color:'#ff5a5a', width:1, type:'solid'}},{yAxis:20, lineStyle:{color:'#ff5a5a', width:1, type:'solid'}}]}}),
    line(stochD, '#138a13', 1.3, {xAxisIndex:6, yAxisIndex:3, z:4, lineStyle:{color:'#138a13', width:1.3, type:[5,3]}}),
    line(stochK, '#138a13', 1.8, {xAxisIndex:6, yAxisIndex:3, z:4}),
    line(d1Signal, '#1414f0', 2, {xAxisIndex:6, yAxisIndex:3, z:5, lineStyle:{color:'#1414f0', width:2, type:[3,3]}}),
    line(d1Main, '#1414f0', 2.6, {xAxisIndex:6, yAxisIndex:3, z:5}),
    {type:'bar', xAxisIndex:7, yAxisIndex:4, barWidth:3, silent:true, z:3,
      data:dirVolume.map(v=>({value:v, itemStyle:{color: v>=0 ? '#1f5fc0' : '#e00000'}})),
      markLine:{silent:true, symbol:['none','none'], label:{show:false}, data:[{yAxis:0, lineStyle:{color:'#c00000', width:1.5, type:'solid'}}]}},
    {type:'bar', xAxisIndex:8, yAxisIndex:5, barWidth:3, silent:true, z:3, data:realVolume, itemStyle:{color:'#1f5fc0'}},
    {type:'line', xAxisIndex:9, yAxisIndex:8, data:[], silent:true}
  ]
};
chart.setOption(option);

const cx = chart.convertToPixel({xAxisIndex:1}, cursorIdx);
const txt = (x, y, text, font, fill, extra) => Object.assign({type:'text', x, y, z:100,
  style:{text, font, fill, textAlign:'left', textVerticalAlign:'middle', align:'left', verticalAlign:'middle'}}, extra||{});
const grad = (a,b) => ({type:'linear', x:0, y:0, x2:0, y2:1, colorStops:[{offset:0,color:a},{offset:1,color:b}]});
chart.setOption({graphic:{elements:[
  {type:'line', z:1, shape:{x1:cx, y1:32, x2:cx, y2:693}, style:{stroke:'#a4acc4', lineWidth:1}},
  {type:'line', z:1, shape:{x1:cx, y1:711, x2:cx, y2:910}, style:{stroke:'#a4acc4', lineWidth:1}},
  txt(9, 40, '[Modele : stoch H4 D1 W1]', '11.4px "DejaVu Sans"', '#3a3a5a'),
  {type:'rect', z:100, shape:{x:19, y:130, width:10, height:18}, style:{fill:'#3a3a3a'}},
  {type:'rect', z:100, shape:{x:29, y:130, width:150, height:18}, style:{fill:grad('#f2f7d4','#d2e3a0'), stroke:'#c4d0ac', lineWidth:1}},
  txt(34, 139.5, 'Vente(28/08 06:42,-5,5)', '11.5px "DejaVu Sans"', '#8a9a72', {z:101}),
  txt(-1, 636, 'EUR/JPY (H4)', 'bold 45px "Liberation Sans"', '#7f7f7f'),
  txt(0, 666, '28/8/2017', 'bold 22px "Liberation Sans"', '#7f7f7f'),
  {type:'rect', z:101, shape:{x:19, y:626, width:10, height:17}, style:{fill:'#3a3a3a'}},
  {type:'rect', z:101, shape:{x:29, y:626, width:43, height:17}, style:{fill:grad('#f6e2fb','#dcbaee'), stroke:'#d4b4e6', lineWidth:1}},
  txt(33, 634.5, 'Limite', '11px "DejaVu Sans"', '#a070c0', {z:102}),
  txt(882, 61, 'Spread', 'italic 20px "Liberation Sans"', '#858585'),
  txt(962, 61, '1.7', '20px "Liberation Sans"', '#ff8000'),
  txt(1406, 177, '-278,3', '12px "DejaVu Sans"', '#1e1e38'),
  txt(7, 857, 'Directional Real Volume(EUR/JPY) - Buy: 6 287 000', '11.8px "DejaVu Sans"', '#4a7cc8', {z:1}),
  txt(309, 857, 'Sell: -3 995 000', '11.8px "DejaVu Sans"', '#e02020', {z:1}),
  {type:'text', x:1829, y:902, z:100, style:{text:'FXCM Marketscope © 2017', font:'11px "DejaVu Sans"', fill:'#3a3a5a', textAlign:'right', align:'right', textVerticalAlign:'middle', verticalAlign:'middle'}}
]}});
</script></body></html>
